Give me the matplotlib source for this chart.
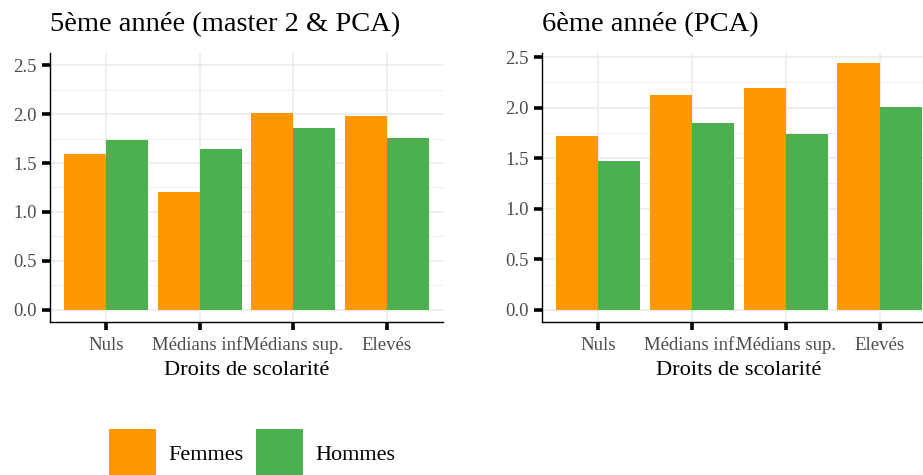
import numpy as np
import matplotlib
matplotlib.use("Agg")
import matplotlib.pyplot as plt
from matplotlib.ticker import MultipleLocator

plt.rcParams['font.family'] = ['Liberation Serif', 'DejaVu Serif']

# data
categories = ["Nuls", "Médians inf.", "Médians sup.", "Elevés"]
femmes_5 = [1.59, 1.20, 2.015, 1.98]
hommes_5 = [1.74, 1.64, 1.857, 1.755]
femmes_6 = [1.72, 2.12, 2.19, 2.44]
hommes_6 = [1.474, 1.843, 1.74, 2.007]
titles = ["5ème année (master 2 & PCA)", "6ème année (PCA)"]
y_ticks = [0.0, 0.5, 1.0, 1.5, 2.0, 2.5]

ORANGE = "#FF9800"
GREEN = "#4CAF50"
W, H = 923, 475

fig = plt.figure(figsize=(W / 100, H / 100), dpi=100)


def panel(x0, x1, ylim, fem, hom, title):
    top, bottom = 53, 322
    ax = fig.add_axes([x0 / W, 1 - bottom / H, (x1 - x0) / W, (bottom - top) / H])
    x = np.arange(1, len(categories) + 1)
    b1 = ax.bar(x - 0.225, fem, width=0.45, color=ORANGE, zorder=2, label="Femmes")
    b2 = ax.bar(x + 0.225, hom, width=0.45, color=GREEN, zorder=2, label="Hommes")
    ax.set_xlim(0.4, 4.6)
    ax.set_ylim(*ylim)
    ax.set_xticks(x)
    ax.set_xticklabels(categories)
    ax.set_yticks(y_ticks)
    ax.set_yticklabels([f"{v:.1f}" for v in y_ticks])
    ax.yaxis.set_minor_locator(MultipleLocator(0.25))
    ax.grid(which="major", color="#EBEBEB", lw=1.1, zorder=0)
    ax.grid(which="minor", axis="y", color="#EBEBEB", lw=0.6, zorder=0)
    ax.tick_params(which="major", length=5.5, width=2.6, color="black",
                   labelsize=13.5, labelcolor="#4D4D4D")
    ax.tick_params(axis="x", pad=5)
    ax.tick_params(axis="y", pad=4)
    ax.tick_params(which="minor", length=0)
    for s in ["top", "right"]:
        ax.spines[s].set_visible(False)
    for s in ["left", "bottom"]:
        ax.spines[s].set_linewidth(1.0)
    ax.set_xlabel("Droits de scolarité", fontsize=16.2, labelpad=5)
    fig.text(x0 / W, 1 - 31 / H, title, fontsize=20.5, ha="left", va="baseline")
    return b1, b2


h1, h2 = panel(50, 443, (-0.125, 2.625), femmes_5, hommes_5, titles[0])
panel(541.7, 936, (-0.12, 2.54), femmes_6, hommes_6, titles[1])

fig.legend(handles=[h1, h2], labels=["Femmes", "Hommes"], loc="center left",
           bbox_to_anchor=(109 / W, 1 - 453 / H), ncol=2, frameon=False,
           fontsize=16, handlelength=2.1, handleheight=2.9, handletextpad=0.55,
           columnspacing=0.6, borderpad=0, borderaxespad=0)

fig.savefig("out.png", dpi=100)
